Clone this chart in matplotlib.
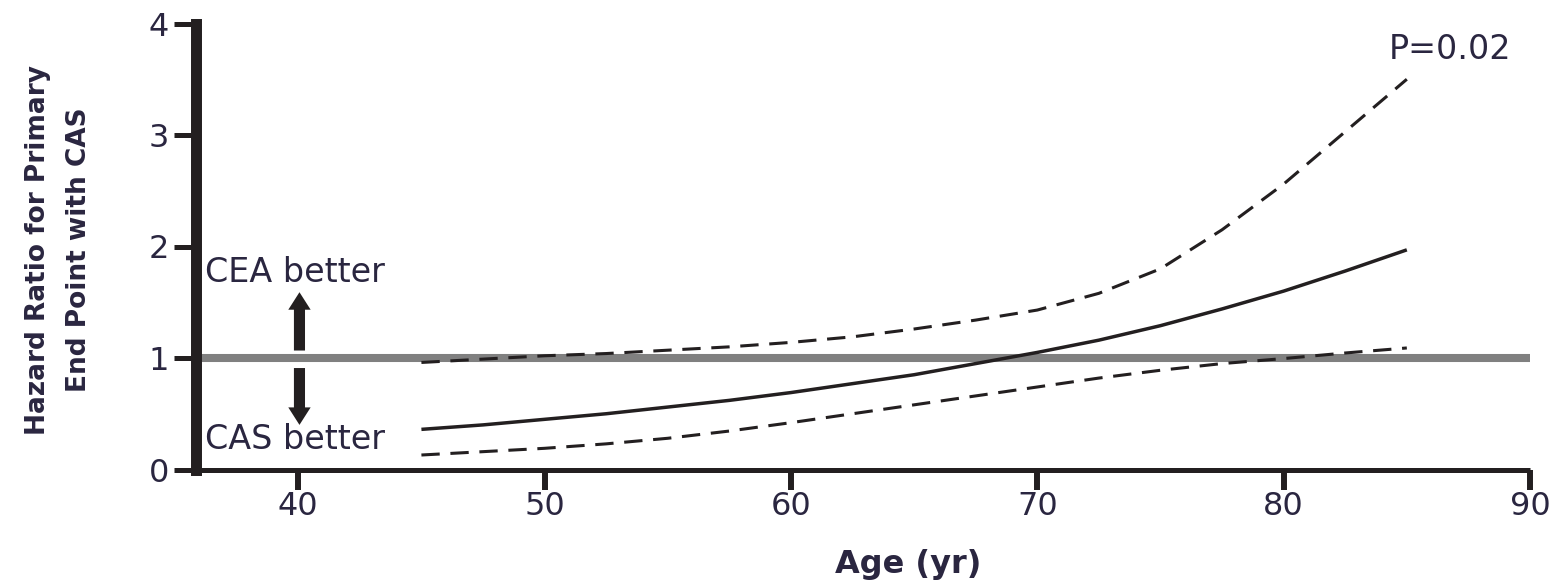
import matplotlib
matplotlib.use("Agg")
import matplotlib.pyplot as plt

# ---- data ----
age = [45, 47.5, 50, 52.5, 55, 57.5, 60, 62.5, 65, 67.5, 70, 72.5, 75, 77.5, 80, 82.5, 85]
hr = [0.36, 0.40, 0.45, 0.50, 0.56, 0.62, 0.69, 0.77, 0.85, 0.95, 1.05, 1.16,
      1.29, 1.44, 1.60, 1.78, 1.97]
hr_upper = [0.96, 0.99, 1.02, 1.04, 1.07, 1.10, 1.14, 1.19, 1.26, 1.34, 1.43, 1.58,
            1.80, 2.15, 2.56, 3.03, 3.50]
hr_lower = [0.13, 0.16, 0.19, 0.23, 0.28, 0.345, 0.42, 0.50, 0.58, 0.66, 0.74, 0.82,
            0.89, 0.95, 0.995, 1.045, 1.09]
reference_hr = 1.0
x_ticks = [40, 50, 60, 70, 80, 90]
y_ticks = [0, 1, 2, 3, 4]
x_label = "Age (yr)"
y_label = "Hazard Ratio for Primary\nEnd Point with CAS"
p_text = "P=0.02"
upper_note = "CEA better"
lower_note = "CAS better"

INK = "#231f20"
TXT = "#2a2640"

W, H = 1555, 581
fig = plt.figure(figsize=(W / 100, H / 100), dpi=100)
left_px, right_px, bottom_px, top_px = 196, 1530, 469.5, 23.5
ax = fig.add_axes([left_px / W, 1 - bottom_px / H,
                   (right_px - left_px) / W, (bottom_px - top_px) / H])

ax.set_xlim(35.85, 90)
ax.set_ylim(0, 4)

# reference line
ax.axhline(reference_hr, color="#808080", lw=5.8, zorder=2)

# curves
ax.plot(age, hr, color=INK, lw=2.5, zorder=3, solid_capstyle="butt")
ax.plot(age, hr_upper, color=INK, lw=2.2, dashes=(6, 3.5), zorder=3)
ax.plot(age, hr_lower, color=INK, lw=2.2, dashes=(6, 3.5), zorder=3)

# arrows
arrow_style = "simple,head_length=0.9,head_width=1.15,tail_width=0.57"
ax.annotate("", xy=(40.05, 1.59), xytext=(40.05, 1.067),
            arrowprops=dict(arrowstyle=arrow_style, mutation_scale=14,
                            fc=INK, ec="none", lw=0, shrinkA=0, shrinkB=0),
            zorder=4)
ax.annotate("", xy=(40.05, 0.40), xytext=(40.05, 0.91),
            arrowprops=dict(arrowstyle=arrow_style, mutation_scale=14,
                            fc=INK, ec="none", lw=0, shrinkA=0, shrinkB=0),
            zorder=4)

# annotations
ax.text(36.22, 1.77, upper_note, fontsize=24, color=TXT, ha="left", va="center")
ax.text(36.22, 0.27, lower_note, fontsize=24, color=TXT, ha="left", va="center")
ax.text(84.27, 3.77, p_text, fontsize=24, color=TXT, ha="left", va="center")

# spines / ticks
for s in ("top", "right"):
    ax.spines[s].set_visible(False)
ax.spines["left"].set_linewidth(7.9)
ax.spines["left"].set_color(INK)
ax.spines["bottom"].set_linewidth(3.6)
ax.spines["bottom"].set_color(INK)
ax.spines["bottom"].set_capstyle("butt")

ax.set_xticks(x_ticks)
ax.set_yticks(y_ticks)
ax.tick_params(axis="y", direction="out", length=16, width=3.6, color=INK,
               labelsize=23, labelcolor=TXT, pad=3.6)
ax.tick_params(axis="x", direction="out", length=14.4, width=4.3, color=INK,
               labelsize=23, labelcolor=TXT, pad=1)

# axis labels
ax.text(0.534, -0.214, x_label, transform=ax.transAxes, fontsize=23,
        fontweight="bold", color=TXT, ha="center", va="center")
ax.text(-0.103, 0.492, y_label, transform=ax.transAxes, fontsize=19,
        fontweight="bold", color=TXT, ha="center", va="center",
        rotation=90, multialignment="center", linespacing=1.75)

fig.savefig("out.png", dpi=100)
